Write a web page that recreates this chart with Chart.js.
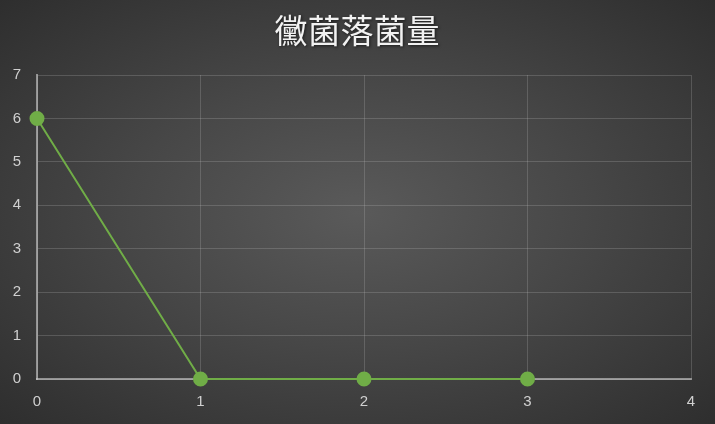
<!DOCTYPE html>
<html>
<head>
<meta charset="utf-8">
<script src="https://cdn.jsdelivr.net/npm/chart.js@4"></script>
<style>
  html, body { margin: 0; padding: 0; }
  body {
    width: 715px; height: 424px; overflow: hidden;
    background: radial-gradient(ellipse at 50% 50%, #5a5a5a 0%, #474747 45%, #2e2e2e 100%);
  }
  #wrap { position: relative; width: 715px; height: 424px; }
</style>
</head>
<body>
<div id="wrap"><canvas id="chart"></canvas></div>
<script>
const title = "黴菌落菌量";
const xValues = [0, 1, 2, 3];
const yValues = [6, 0, 0, 0];
const xTicks = [0, 1, 2, 3, 4];
const yTicks = [0, 1, 2, 3, 4, 5, 6, 7];

const points = xValues.map((x, i) => ({ x: x, y: yValues[i] }));
const green = "#70ad47";
const tickFont = { family: "'Liberation Sans Narrow', 'Liberation Sans', sans-serif", size: 15 };

// title drawn by hand so the plot area can be placed exactly
const titlePlugin = {
  id: "titleText",
  afterDraw(chart) {
    const c = chart.ctx;
    c.save();
    c.font = "33px 'Noto Sans CJK TC', sans-serif";
    c.fillStyle = "#f2f2f2";
    c.textAlign = "center";
    c.textBaseline = "middle";
    c.shadowColor = "rgba(0,0,0,0.6)";
    c.shadowBlur = 3;
    c.shadowOffsetX = 1;
    c.shadowOffsetY = 1;
    c.fillText(title, 357, 30);
    c.restore();
  }
};

new Chart(document.getElementById("chart"), {
  type: "scatter",
  data: {
    datasets: [{
      data: points,
      showLine: true,
      clip: false,
      borderColor: green,
      backgroundColor: green,
      borderWidth: 2,
      pointRadius: 6.5,
      pointHoverRadius: 6.5
    }]
  },
  options: {
    responsive: true,
    maintainAspectRatio: false,
    animation: false,
    layout: { padding: { top: 75, right: 24, left: 0, bottom: 0 } },
    plugins: { legend: { display: false }, tooltip: { enabled: false } },
    scales: {
      x: {
        type: "linear",
        min: xTicks[0],
        max: xTicks[xTicks.length - 1],
        afterBuildTicks(scale) { scale.ticks = xTicks.map(v => ({ value: v })); },
        afterFit(scale) { scale.height = 45; },
        ticks: { color: "#d0d0d0", font: tickFont, padding: 14 },
        grid: { color: "rgba(200,200,200,0.22)", lineWidth: 1, drawTicks: false },
        border: { color: "rgba(210,210,210,0.6)", width: 2 }
      },
      y: {
        type: "linear",
        min: yTicks[0],
        max: yTicks[yTicks.length - 1],
        afterBuildTicks(scale) { scale.ticks = yTicks.map(v => ({ value: v })); },
        afterFit(scale) { scale.width = 37; },
        ticks: { color: "#d0d0d0", font: tickFont, padding: 16 },
        grid: { color: "rgba(200,200,200,0.22)", lineWidth: 1, drawTicks: false },
        border: { color: "rgba(210,210,210,0.6)", width: 2 }
      }
    }
  },
  plugins: [titlePlugin]
});
</script>
</body>
</html>
